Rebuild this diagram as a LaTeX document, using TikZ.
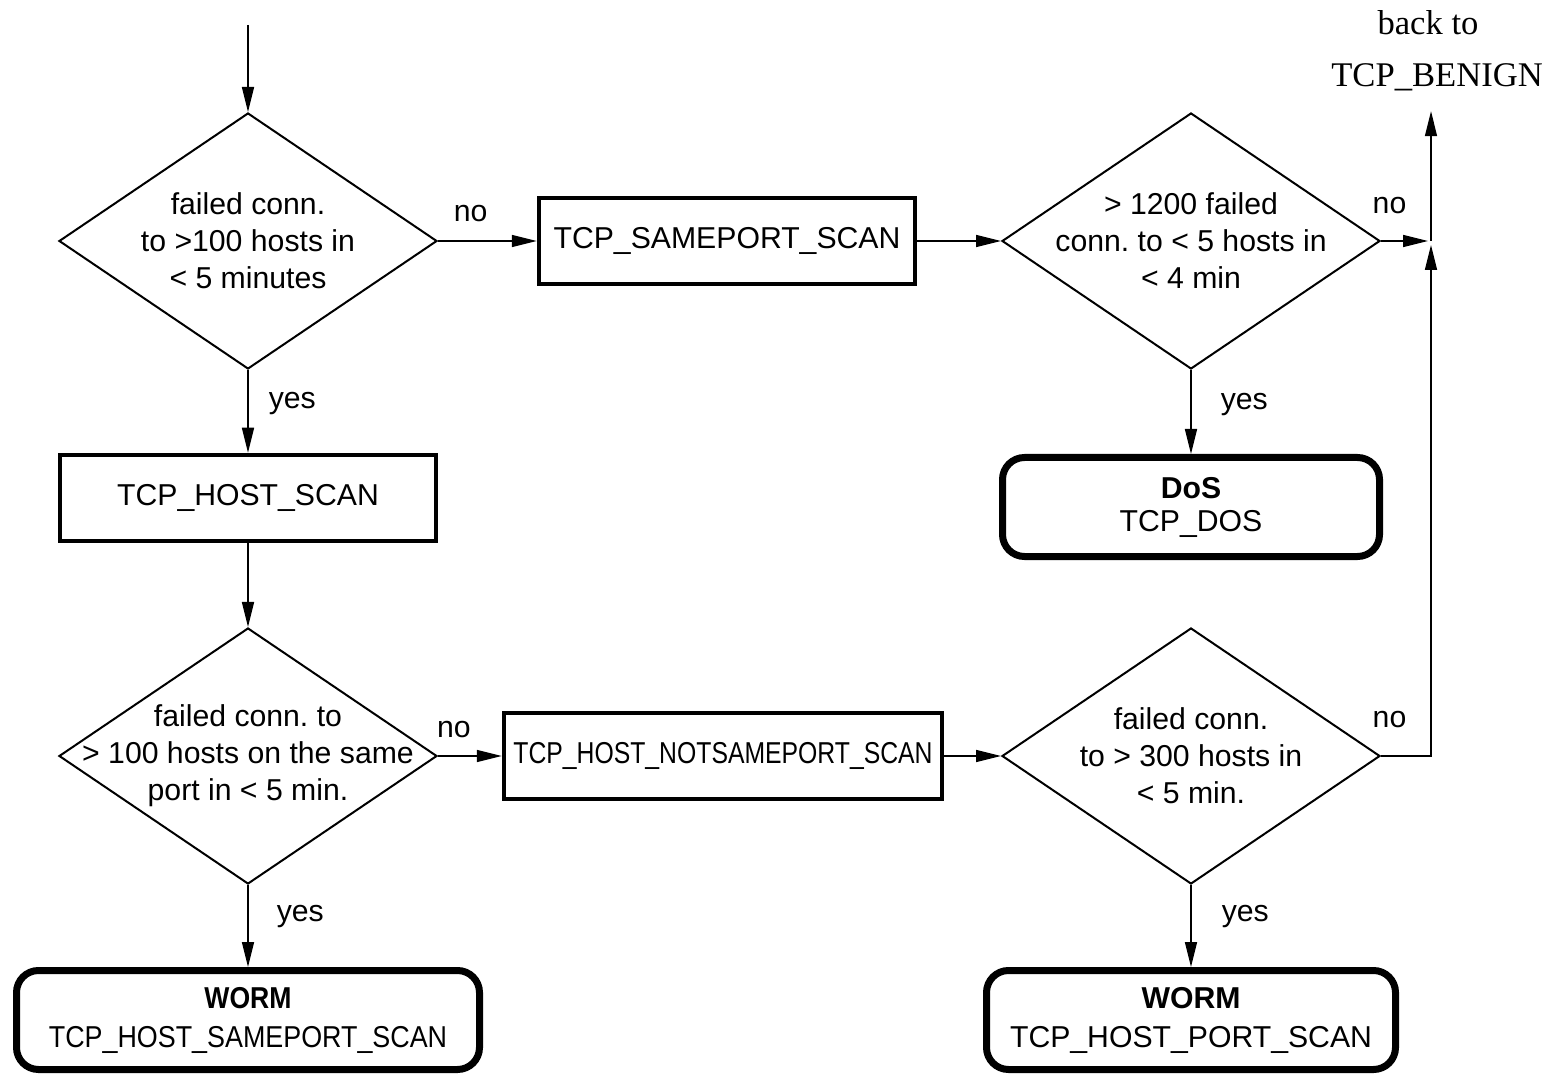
\documentclass[tikz,border=0pt]{standalone}
\usepackage{fontspec}
\setmainfont{Liberation Sans}
\newfontfamily\benignfont{Liberation Serif}
\usetikzlibrary{shapes.geometric, arrows.meta}

\begin{document}
\frenchspacing
\begin{tikzpicture}[x=0.5pt, y=-0.5pt,
  font=\fontsize{15.1}{18.5}\selectfont, >={Triangle[length=12.5pt, width=6pt]},
  line width=0.75pt,
  decision/.style={draw, diamond, line width=1pt, minimum width=189pt, minimum height=128pt, inner sep=0pt},
  proc/.style={draw, rectangle, line width=2.25pt, minimum height=43pt, inner sep=0pt},
  result/.style={draw, rectangle, rounded corners=11pt, line width=3.5pt, minimum height=49.5pt,
    inner sep=0pt, align=center, font=\fontsize{15.1}{19.5}\selectfont},
  lbl/.style={inner sep=0pt}]
\useasboundingbox (0,0) rectangle (1557,1074);

% upper row
\coordinate (start) at (248,25);
\node[decision, label={[align=center]center:{failed conn.\\to >100 hosts in\\< 5 minutes}}] (d1) at (248,241) {};
\node[proc, minimum width=188pt] (sameport) at (727,241) {TCP\_SAMEPORT\_SCAN};
\node[decision, label={[align=center]center:{> 1200 failed\\conn. to < 5 hosts in\\< 4 min}}] (d2) at (1191,241) {};
\coordinate (merge) at (1431,241);
\node[lbl, font=\benignfont\fontsize{17.3}{20}\selectfont, anchor=base] (benign) at (1437,87) {TCP\_BENIGN};
\node[lbl, font=\benignfont\fontsize{17.3}{20}\selectfont, anchor=base] (backto) at (1428,35) {back to};
\node[result, minimum width=188.5pt, font=\fontsize{15.1}{16.5}\selectfont] (dos) at (1191,507) {\textbf{DoS}\\TCP\_DOS};

% lower row
\node[proc, minimum width=188pt] (hostscan) at (248,498) {TCP\_HOST\_SCAN};
\node[decision, label={[align=center]center:{failed conn. to\\> 100 hosts on the same\\port in < 5 min.}}] (d3) at (248,756) {};
\node[proc, minimum width=219pt] (notsame) at (723,756) {\scalebox{0.82}[1]{TCP\_HOST\_NOTSAMEPORT\_SCAN}};
\node[decision, label={[align=center]center:{failed conn.\\to > 300 hosts in\\< 5 min.}}] (d4) at (1191,756) {};
\coordinate (turn) at (1431,756);
\node[result, minimum width=231.5pt] (wormsame) at (248,1020) {\scalebox{0.88}[1]{\textbf{WORM}}\\\scalebox{0.89}[1]{TCP\_HOST\_SAMEPORT\_SCAN}};
\node[result, minimum width=204.5pt] (wormport) at (1191,1020) {\textbf{WORM}\\TCP\_HOST\_PORT\_SCAN};

% connectors
\draw[->] (start) -- (d1);
\draw[->] (d1) -- node[lbl, pos=0.33, above=9pt] {no} (sameport);
\draw[->] (sameport) -- (d2);
\draw[->, shorten >=1.5pt] (d2) -- node[lbl, pos=0.17, above=13pt] {no} (merge);
\draw[->] (d1) -- node[lbl, pos=0.41, right=10pt] {yes} (hostscan);
\draw[->] (d2) -- node[lbl, pos=0.415, right=14.5pt] {yes} (dos);
\draw[->] (hostscan) -- (d3);
\draw[->] (d3) -- node[lbl, pos=0.25, above=8.5pt] {no} (notsame);
\draw[->] (notsame) -- (d4);
\draw[->, shorten >=2pt] (d4) -- node[lbl, pos=0.17, above=13.5pt] {no} (turn) -- (merge);
\draw[->] (d3) -- node[lbl, pos=0.39, right=14pt] {yes} (wormsame);
\draw[->] (d4) -- node[lbl, pos=0.39, right=15pt] {yes} (wormport);
\draw[->, shorten >=9.5pt] (merge) -- (merge |- benign.south);
\end{tikzpicture}
\end{document}
